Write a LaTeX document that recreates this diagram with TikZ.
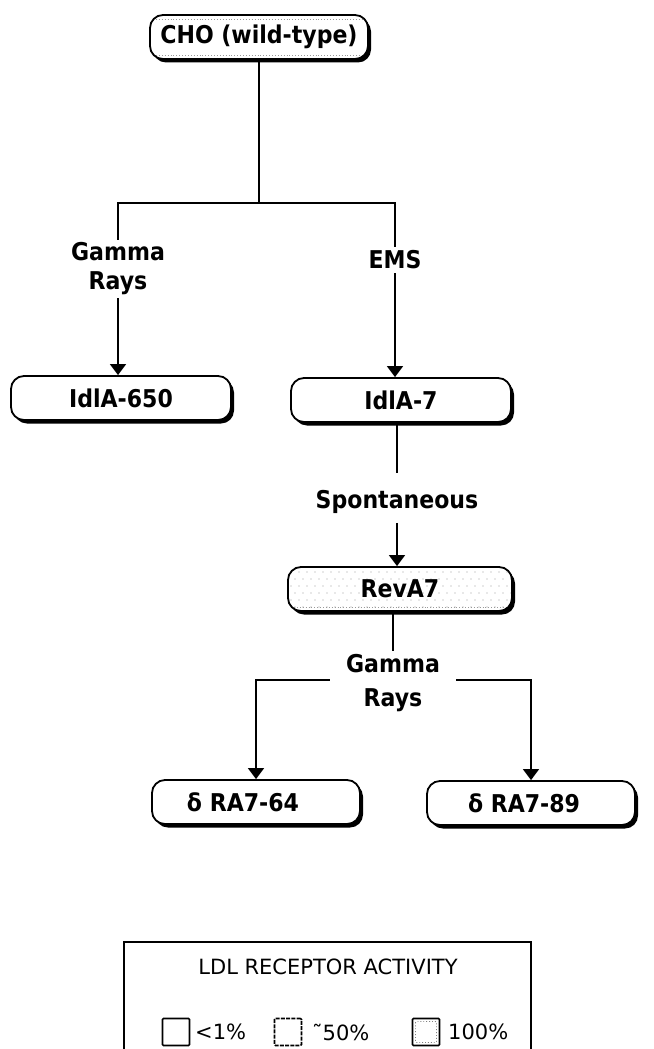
\documentclass[tikz,border=0pt]{standalone}
\usepackage{fontspec}
\setmainfont{DejaVu Sans}
\newfontfamily\heavy{DejaVu Sans Condensed Bold}
\usetikzlibrary{arrows.meta,shadows}
\begin{document}
\begin{tikzpicture}[x=1pt,y=-1pt,
  cellbox/.style={draw, line width=1.8pt, rounded corners=13pt, fill=white,
    minimum height=44pt, minimum width=220pt, inner sep=0pt,
    font=\heavy\fontsize{24.5}{27}\selectfont,
    drop shadow={shadow xshift=3pt, shadow yshift=-3.5pt, opacity=1, fill=black}},
  edgedots/.style={path picture={
    \draw[gray!80, dotted, line width=0.9pt]
      ([xshift=6pt,yshift=-4pt]path picture bounding box.north west) --
      ([xshift=-6pt,yshift=-4pt]path picture bounding box.north east);
    \draw[gray!80, dotted, line width=0.9pt]
      ([xshift=6pt,yshift=4pt]path picture bounding box.south west) --
      ([xshift=-6pt,yshift=4pt]path picture bounding box.south east);}},
  filldots/.style={path picture={
    \foreach \i in {0,...,28}{\foreach \j in {0,...,5}{
      \fill[gray!75] ([xshift={\i*8pt+mod(\j,2)*4pt+3pt}, yshift={-\j*7pt-5pt}]path picture bounding box.north west) circle (0.55pt);}}
    \draw[gray!80, dotted, line width=0.9pt]
      ([xshift=6pt,yshift=4pt]path picture bounding box.south west) --
      ([xshift=-6pt,yshift=4pt]path picture bounding box.south east);}},
  lbl/.style={font=\heavy\fontsize{24.5}{29}\selectfont, align=center, inner sep=3pt},
  conn/.style={line width=1.5pt},
  arr/.style={line width=1.5pt, -{Triangle[width=16pt,length=11pt]}},
  legtxt/.style={font=\fontsize{21}{24}\selectfont, inner sep=0pt},
  sq/.style={draw, line width=1.6pt, minimum size=27pt, inner sep=0pt, rounded corners=1pt}
]
\useasboundingbox (0,0) rectangle (653,1049);

% boxes
\node[cellbox, edgedots, minimum width=218pt] (cho) at (259,37) {CHO (wild-type)};
\node[cellbox] (l650) at (121,398) {IdlA-650};
\node[cellbox] (l7) at (401,400) {IdlA-7};
\node[cellbox, filldots, minimum width=224pt] (revA) at (400,589) {RevA7};
\node[cellbox, minimum width=208pt] (ra64) at (256,802) {δ RA7-64\hspace*{26pt}};
\node[cellbox, minimum width=208pt] (ra89) at (531,803) {δ RA7-89\hspace*{14pt}};

% labels
\node[lbl] (gl) at (118,269) {Gamma\\Rays};
\node[lbl, inner sep=4pt] (ems) at (395,260) {EMS};
\node[lbl] (sp) at (397,502) {Spontaneous};
\node[lbl, font=\heavy\fontsize{24.5}{34}\selectfont, inner xsep=16pt] (g2) at (393,683) {Gamma\\Rays};

% junction
\coordinate (jl) at (118,203);
\coordinate (jr) at (395,203);

% connectors
\draw[conn] (cho.south) -- (cho.south |- jl);
\draw[conn] (gl.north -| jl) -- (jl) -- (jr) -- (jr |- ems.north);
\draw[arr] (gl.south -| jl) -- (jl |- l650.north);
\draw[arr] (ems.south) -- (ems.south |- l7.north);
\draw[conn, shorten >=14pt] (sp.north |- l7.south) -- (sp.north);
\draw[arr, shorten <=6pt] (sp.south) -- (sp.south |- revA.north);
\draw[conn] (g2.north |- revA.south) -- (g2.north);
\draw[arr] ([yshift=3pt]g2.west) -| (ra64.north);
\draw[arr] ([yshift=3pt]g2.east) -| (ra89.north);

% legend
\draw[line width=1.3pt] (124,1060) -- (124,942) -- (531,942) -- (531,1060);
\node[legtxt] (lt) at (328,967) {LDL RECEPTOR ACTIVITY};
\node[sq] (s1) at (176,1032) {};
\node[legtxt, anchor=west] (t1) at (195,1032) {<1\%};
\node[sq, dash pattern=on 4pt off 1.2pt] (s2) at (288,1032) {};
\node[legtxt, anchor=west] (t2) at (312,1032) {˜50\%};
\node[sq, path picture={\draw[gray, dotted, line width=0.9pt]
  ([xshift=3pt,yshift=-3pt]path picture bounding box.north west) rectangle
  ([xshift=-3pt,yshift=3pt]path picture bounding box.south east);}] (s3) at (426,1032) {};
\node[legtxt, anchor=west] (t3) at (448,1032) {100\%};
\end{tikzpicture}
\end{document}
